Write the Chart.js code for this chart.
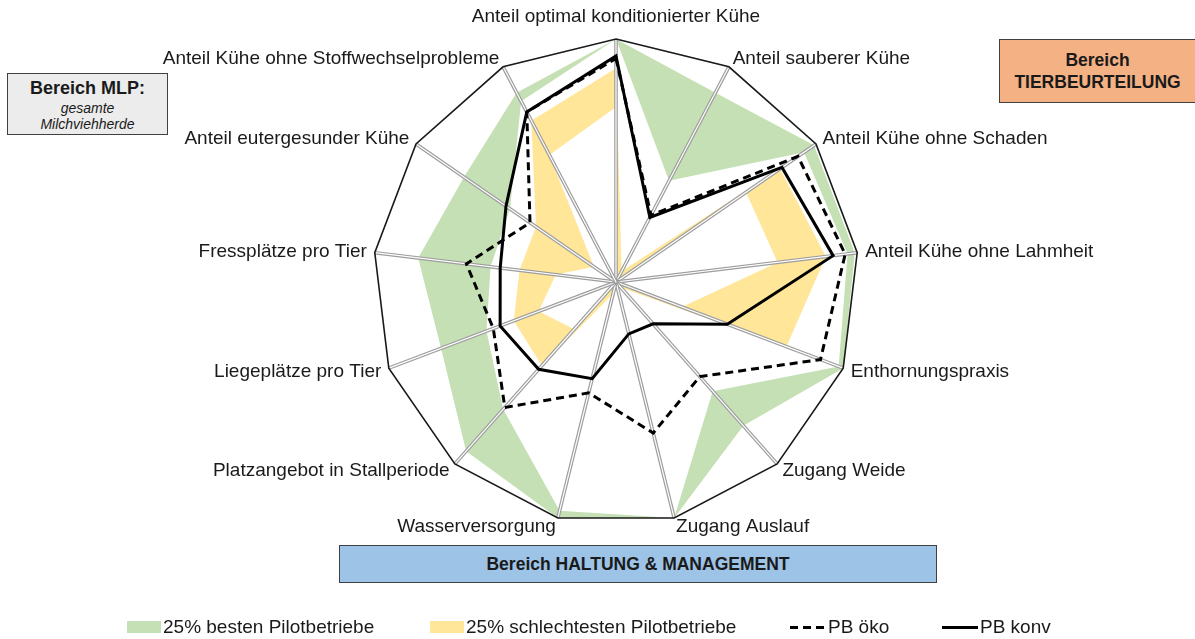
<!DOCTYPE html>
<html>
<head>
<meta charset="utf-8">
<script src="https://cdn.jsdelivr.net/npm/chart.js@4.4.1/dist/chart.umd.min.js"></script>
<style>
  body { margin: 0; background: #fff; font-family: "Liberation Sans", Arial, sans-serif; color: #1a1a1a; }
  #wrap { position: relative; width: 1195px; height: 639px; overflow: hidden; }
  #chart { position: absolute; left: 0; top: 0; }
  .box { position: absolute; box-sizing: border-box; border: 1px solid #404040; text-align: center; }
  .leg { position: absolute; top: 617px; height: 20px; display: flex; align-items: center; font-size: 19px; white-space: nowrap; }
  .sw { display: inline-block; width: 34px; height: 12px; margin-right: 2px; }
  .ln { display: inline-block; width: 36px; height: 3px; margin-right: 2px; background: #000; }
  .dash { background: repeating-linear-gradient(90deg, #000 0 8px, transparent 8px 13px); }
</style>
</head>
<body>
<div id="wrap">
  <canvas id="chart" width="1195" height="639"></canvas>

  <div class="box" style="left:7px; top:73px; width:161px; height:62px; background:#ececec;">
    <div style="font-weight:bold; font-size:18px; margin-top:4px;">Bereich MLP:</div>
    <div style="font-style:italic; font-size:14px; line-height:16px; margin-top:1px;">gesamte<br>Milchviehherde</div>
  </div>
  <div class="box" style="left:999px; top:39px; width:197px; height:64px; background:#f4b183;">
    <div style="font-weight:bold; font-size:17.5px; line-height:22px; margin-top:9px;">Bereich<br>TIERBEURTEILUNG</div>
  </div>
  <div class="box" style="left:339px; top:545px; width:598px; height:38px; background:#9dc3e6;">
    <div style="font-weight:bold; font-size:17.5px; line-height:36px;">Bereich HALTUNG &amp; MANAGEMENT</div>
  </div>

  <div class="leg" style="left:127px;"><span class="sw" style="background:#c5e0b4"></span>25% besten Pilotbetriebe</div>
  <div class="leg" style="left:430px;"><span class="sw" style="background:#ffe699"></span>25% schlechtesten Pilotbetriebe</div>
  <div class="leg" style="left:790px;"><span class="ln dash"></span>PB öko</div>
  <div class="leg" style="left:942px;"><span class="ln"></span>PB konv</div>
</div>

<script>
const labels = [
    'Anteil optimal konditionierter Kühe',
    'Anteil sauberer Kühe',
    'Anteil Kühe ohne Schaden',
    'Anteil Kühe ohne Lahmheit',
    'Enthornungspraxis',
    'Zugang Weide',
    'Zugang Auslauf',
    'Wasserversorgung',
    'Platzangebot in Stallperiode',
    'Liegeplätze pro Tier',
    'Fressplätze pro Tier',
    'Anteil eutergesunder Kühe',
    'Anteil Kühe ohne Stoffwechselprobleme'
];

// Werte in % des Maximums (0-100), im Uhrzeigersinn ab oben
const pbKonv   = [93, 30, 83, 90, 49, 23, 22, 41, 48, 51, 48, 55, 79];
const pbOeko   = [92, 31, 91, 95, 90, 52, 64, 47, 69, 54, 62, 43, 79];
// Band der 25% besten Betriebe (aussen / innen)
const bestMax  = [100, 88, 99, 99, 100, 79, 100, 100, 93, 77, 82, 76, 88];
const bestMin  = [100, 47, 94, 96, 98, 60, 100, 97, 70, 57, 52, 53, 84];
// Band der 25% schlechtesten Betriebe (aussen / innen)
const worstMax = [88, 5, 82, 87, 75, 3, 3, 5, 46, 45, 40, 40, 75];
const worstMin = [72, 0, 65, 67, 29, 0, 0, 0, 26, 34, 25, 11, 59];

const scaleMax = 100;
const none = 'rgba(0,0,0,0)';

function area(label, data, color, order) {
    return { label, data, backgroundColor: color, borderColor: none, borderWidth: 0, fill: 'origin', pointRadius: 0, order };
}

// Speichen, Rahmen und Achsenbeschriftungen
const frame = {
    id: 'frame',
    beforeDatasetDraw(chart, args) {
        if (args.index !== 1) return;
        const r = chart.scales.r;
        const ctx = chart.ctx;
        ctx.save();
        for (let i = 0; i < labels.length; i++) {
            const p = r.getPointPositionForValue(i, scaleMax);
            ctx.beginPath();
            ctx.moveTo(r.xCenter, r.yCenter);
            ctx.lineTo(p.x, p.y);
            ctx.strokeStyle = '#9d9d9d';
            ctx.lineWidth = 3.6;
            ctx.stroke();
            ctx.strokeStyle = '#ffffff';
            ctx.lineWidth = 1.2;
            ctx.stroke();
        }
        ctx.beginPath();
        labels.forEach((_, i) => {
            const p = r.getPointPositionForValue(i, scaleMax);
            if (i === 0) ctx.moveTo(p.x, p.y); else ctx.lineTo(p.x, p.y);
        });
        ctx.closePath();
        ctx.strokeStyle = '#1a1a1a';
        ctx.lineWidth = 1.6;
        ctx.stroke();
        ctx.restore();
    },
    afterDraw(chart) {
        const r = chart.scales.r;
        const ctx = chart.ctx;
        ctx.save();
        ctx.font = '19px "Liberation Sans", Arial, sans-serif';
        ctx.fillStyle = '#1a1a1a';
        ctx.textBaseline = 'middle';
        labels.forEach((text, i) => {
            const p = r.getPointPositionForValue(i, scaleMax);
            const a = r.getIndexAngle(i);
            const s = Math.sin(a), c = Math.cos(a);
            if (Math.abs(s) < 0.05) {
                ctx.textAlign = 'center';
                ctx.fillText(text, p.x, p.y - 22);
            } else {
                ctx.textAlign = s > 0 ? 'left' : 'right';
                ctx.fillText(text, p.x + 8 * s, p.y - 9 * c);
            }
        });
        ctx.restore();
    }
};

new Chart(document.getElementById('chart'), {
    type: 'radar',
    data: {
        labels,
        datasets: [
            { label: 'PB konv', data: pbKonv, borderColor: '#000', borderWidth: 3, fill: false, pointRadius: 0, order: 0 },
            { label: 'PB öko', data: pbOeko, borderColor: '#000', borderWidth: 3, borderDash: [8, 5], fill: false, pointRadius: 0, order: 1 },
            area('min schlechteste', worstMin, '#ffffff', 2),
            area('25% schlechtesten Pilotbetriebe', worstMax, '#ffe699', 3),
            area('min beste', bestMin, '#ffffff', 4),
            area('25% besten Pilotbetriebe', bestMax, '#c5e0b4', 5)
        ]
    },
    options: {
        responsive: false,
        animation: false,
        devicePixelRatio: 1,
        layout: { padding: { left: 373, top: 39, right: 336, bottom: 114 } },
        elements: { line: { tension: 0 } },
        plugins: {
            legend: { display: false },
            tooltip: { enabled: false }
        },
        scales: {
            r: {
                min: 0,
                max: scaleMax,
                ticks: { display: false, stepSize: 100 },
                grid: { display: false },
                angleLines: { display: false },
                pointLabels: { display: false }
            }
        }
    },
    plugins: [frame]
});
</script>
</body>
</html>
